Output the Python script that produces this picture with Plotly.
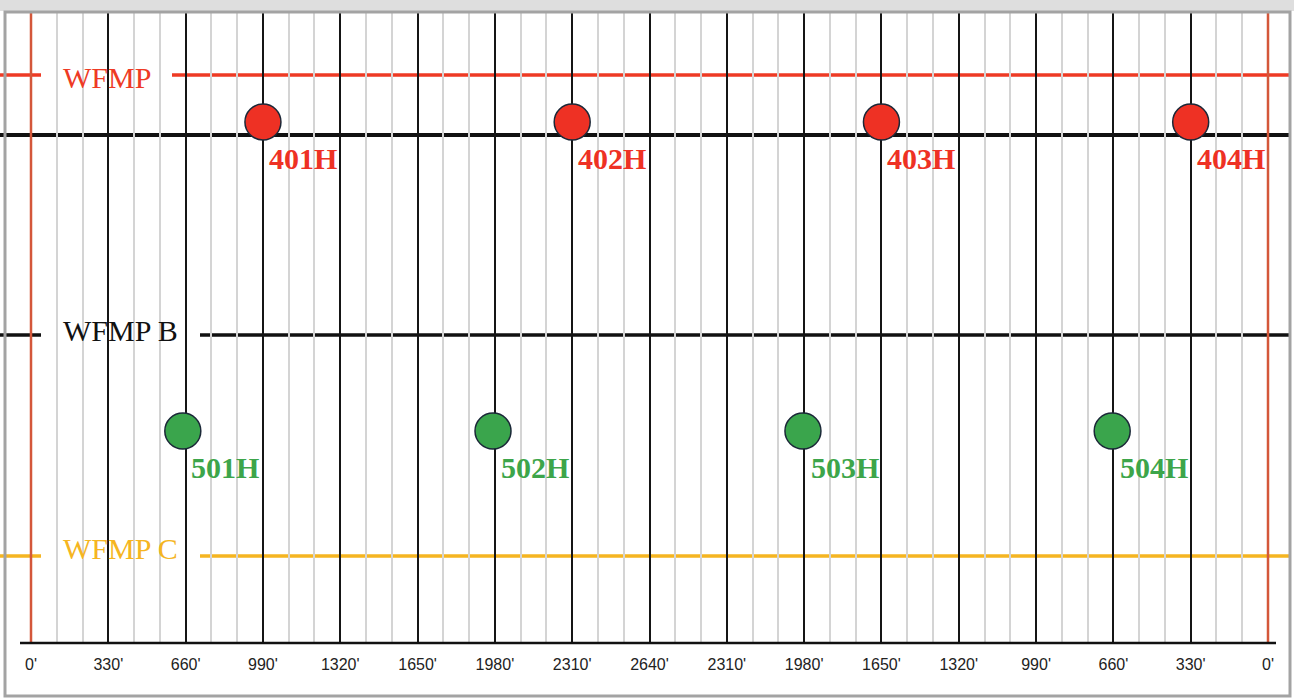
import plotly.graph_objects as go

# ---------------- data ----------------
tick_vals = list(range(0, 5281, 330))
tick_text = ["0'", "330'", "660'", "990'", "1320'", "1650'", "1980'", "2310'", "2640'",
             "2310'", "1980'", "1650'", "1320'", "990'", "660'", "330'", "0'"]

horizon_names = ["WFMP", "WFMP B", "WFMP C"]
horizon_levels = [75, 335, 556]
horizon_colors = ["#EE3A24", "#111111", "#F5B521"]
target_level = 135  # landing line for 400-series wells

wells_400 = ["401H", "402H", "403H", "404H"]
wells_400_x = [990, 2310, 3630, 4950]
wells_400_y = [122, 122, 122, 122]

wells_500 = ["501H", "502H", "503H", "504H"]
wells_500_x = [648, 1972, 3295, 4615]
wells_500_y = [431, 431, 431, 431]

# ---------------- geometry helpers ----------------
W, H = 1294, 699
B = 56
PLOT_H = H - B
X0PX, X1PX = 31.0, 1268.0
SCALE = (X1PX - X0PX) / 5280.0
XR = [-X0PX / SCALE, (W - X0PX) / SCALE]


def pxx(p):
    return p / W


def pxy(p):
    return (PLOT_H - p) / PLOT_H


fig = go.Figure()

shapes = []
# horizon lines + target line
for lvl, col in zip(horizon_levels, horizon_colors):
    shapes.append(dict(type="line", xref="paper", yref="y", x0=0, x1=pxx(1291), y0=lvl, y1=lvl,
                       line=dict(color=col, width=3.5), layer="between"))
shapes.append(dict(type="line", xref="paper", yref="y", x0=0, x1=pxx(1291), y0=target_level, y1=target_level,
                   line=dict(color="#111111", width=4), layer="between"))

# white label boxes
boxes = [(41, 172, 50, 107), (41, 200, 312, 357), (41, 200, 520, 577)]
for bx0, bx1, by0, by1 in boxes:
    shapes.append(dict(type="rect", xref="paper", yref="paper", x0=pxx(bx0), x1=pxx(bx1),
                       y0=pxy(by1), y1=pxy(by0), fillcolor="white", line=dict(width=0), layer="between"))

# red lease-edge verticals
for xv in [0, 5280]:
    shapes.append(dict(type="line", xref="x", yref="paper", x0=xv, x1=xv, y0=0, y1=pxy(12),
                       line=dict(color="#D4573A", width=2.5), layer="above"))

# baseline
shapes.append(dict(type="line", xref="paper", yref="paper", x0=pxx(20), x1=pxx(1276), y0=0, y1=0,
                   line=dict(color="#111111", width=2.5), layer="above"))

# top shadow strip and frame
shapes.append(dict(type="rect", xref="paper", yref="paper", x0=0, x1=1, y0=pxy(11), y1=pxy(0),
                   fillcolor="#dedede", line=dict(width=0), layer="above"))
shapes.append(dict(type="rect", xref="paper", yref="paper", x0=pxx(5), x1=pxx(1290), y0=pxy(696), y1=pxy(12),
                   fillcolor="rgba(0,0,0,0)", line=dict(color="#a3a3a3", width=3), layer="above"))

# wells
fig.add_trace(go.Scatter(x=wells_400_x, y=wells_400_y, mode="markers",
                         marker=dict(size=36, color="#EE3124", line=dict(color="#1B2838", width=1.5)),
                         hoverinfo="text", text=wells_400, showlegend=False))
fig.add_trace(go.Scatter(x=wells_500_x, y=wells_500_y, mode="markers",
                         marker=dict(size=36, color="#3AA54C", line=dict(color="#1B2838", width=1.5)),
                         hoverinfo="text", text=wells_500, showlegend=False))

annotations = []
for name, xv, yv in zip(wells_400, wells_400_x, wells_400_y):
    annotations.append(dict(x=xv, y=yv, xref="x", yref="y", text="<b>%s</b>" % name, showarrow=False,
                            xanchor="left", yanchor="middle", xshift=4, yshift=-36,
                            font=dict(family="Liberation Serif, Times New Roman, serif", size=30, color="#EE3124")))
for name, xv, yv in zip(wells_500, wells_500_x, wells_500_y):
    annotations.append(dict(x=xv, y=yv, xref="x", yref="y", text="<b>%s</b>" % name, showarrow=False,
                            xanchor="left", yanchor="middle", xshift=6, yshift=-36,
                            font=dict(family="Liberation Serif, Times New Roman, serif", size=30, color="#3DA54A")))

label_pos = [(107, 78), (120, 330), (120, 548)]
label_colors = ["#EE3A24", "#111111", "#F5B521"]
for name, (lx, ly), col in zip(horizon_names, label_pos, label_colors):
    annotations.append(dict(x=pxx(lx), y=pxy(ly), xref="paper", yref="paper", text=name, showarrow=False,
                            xanchor="center", yanchor="middle",
                            font=dict(family="Liberation Serif, Times New Roman, serif", size=30, color=col)))

fig.update_layout(
    width=W, height=H,
    margin=dict(l=0, r=0, t=0, b=B),
    paper_bgcolor="white", plot_bgcolor="white",
    shapes=shapes, annotations=annotations,
    xaxis=dict(range=XR, tickmode="array", tickvals=tick_vals, ticktext=tick_text,
               showgrid=True, gridcolor="#151515", gridwidth=2.2, zeroline=False, showline=False,
               ticks="", ticklabelstandoff=10,
               tickfont=dict(family="Liberation Sans, Arial, sans-serif", size=16, color="#222222"),
               minor=dict(tickmode="linear", tick0=0, dtick=110, showgrid=True, gridcolor="#d4d4d4", gridwidth=1.5, ticks=""),
               fixedrange=True),
    yaxis=dict(range=[PLOT_H, 0], showgrid=False, zeroline=False, showticklabels=False, showline=False,
               fixedrange=True),
)

fig.write_html("out.html", config={"displayModeBar": False},
               post_script="document.body.style.margin='0';document.body.style.overflow='hidden';")
